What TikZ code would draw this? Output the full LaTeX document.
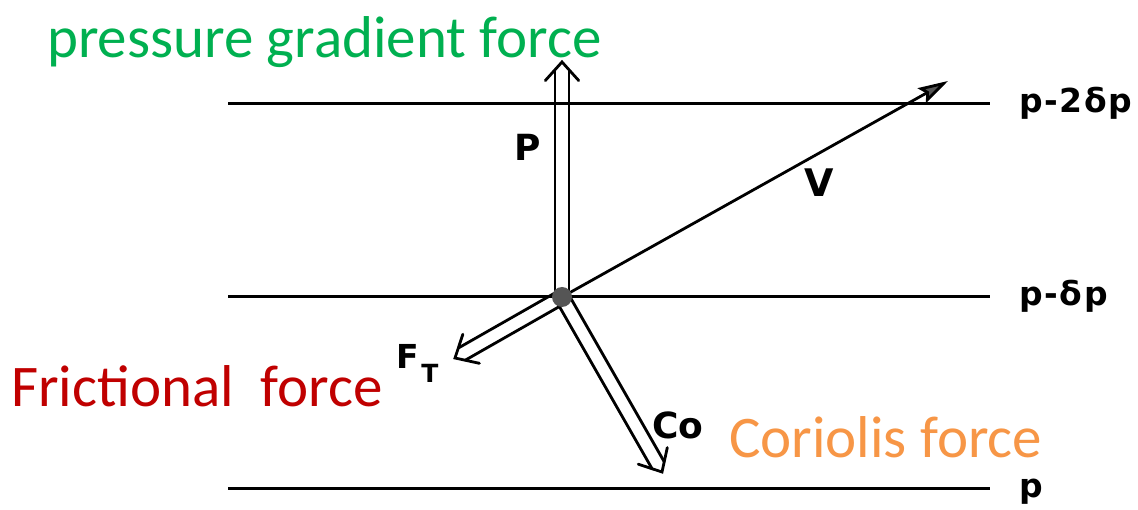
\documentclass[tikz,border=0pt]{standalone}
\usepackage{fontspec}
\usetikzlibrary{calc,arrows.meta}
\newfontfamily\labfont{DejaVu Sans Bold}
\newfontfamily\plabfont[LetterSpace=5]{DejaVu Sans Bold}
\newfontfamily\calfont{Carlito}
\definecolor{pgfgreen}{HTML}{00B050}
\definecolor{frred}{HTML}{C00000}
\definecolor{coorange}{HTML}{F79646}
\definecolor{dotgray}{HTML}{555555}
\newcommand\dblarrow[2]{%
  \coordinate (tb) at ($(#2)!8pt!(#1)$);
  \draw[shaft] ($(#1)!7pt!90:(#2)$) -- ($(tb)!7pt!-90:(#1)$);
  \draw[shaft] ($(#1)!7pt!-90:(#2)$) -- ($(tb)!7pt!90:(#1)$);
  \draw[shaft, line join=miter] ($(#2)!25pt!42:(#1)$) -- (#2) -- ($(#2)!25pt!-42:(#1)$);
}
\begin{document}
\begin{tikzpicture}[x=1pt,y=-1pt,
  isobar/.style={line width=3pt},
  shaft/.style={line width=2.8pt, line cap=round},
  lettering/.style={font=\labfont\fontsize{36}{36}\selectfont, inner sep=0pt},
  plabel/.style={font=\plabfont\fontsize{33}{33}\selectfont, inner sep=0pt, anchor=base west},
  title/.style={font=\calfont\fontsize{59}{60}\selectfont, inner sep=0pt, anchor=base west}]
\useasboundingbox[fill=white] (0,0) rectangle (1138,510);

% isobars
\coordinate (L1a) at (228,104); \coordinate (L1b) at (990,104);
\coordinate (L2a) at (228,297); \coordinate (L2b) at (990,297);
\coordinate (L3a) at (228,488); \coordinate (L3b) at (990,488);
\draw[isobar] (L1a) -- (L1b);
\draw[isobar] (L2a) -- (L2b);
\draw[isobar] (L3a) -- (L3b);
\node[plabel] (l1) at (1019,113) {p-2δp};
\node[plabel] (l2) at (1019,306) {p-δp};
\node[plabel] (l3) at (1019,497) {p};

% centre and tips
\coordinate (c) at (562,297);
\coordinate (Ptip) at (562,62);
\coordinate (Ftip) at (455,358);
\coordinate (Ctip) at (662,472);
\coordinate (Vtip) at (948,81);

\dblarrow{c}{Ptip}
\dblarrow{c}{Ftip}
\dblarrow{c}{Ctip}
\draw[line width=2.8pt, -{Stealth[length=30pt,width=17pt,inset=5pt,fill=dotgray]}] (c) -- (Vtip);
\node[circle, fill=dotgray, minimum size=20pt, inner sep=0pt] (dot) at (c) {};

% labels
\node[lettering] (P) at (528,147) {P};
\node[lettering, font=\labfont\fontsize{38}{38}\selectfont] (V) at (819,183) {V};
\node[lettering] (Co) at (678,425) {Co};
\node[lettering, font=\labfont\fontsize{33}{33}\selectfont] (F) at (408,356) {F};
\node[lettering, font=\labfont\fontsize{25}{25}\selectfont] (T) at (430,373) {T};

% coloured titles
\node[title, text=pgfgreen] (pg) at (47,58) {pressure gradient force};
\node[title, text=frred] (fr) at (11,407) {Frictional\ \ force};
\node[title, text=coorange] (co) at (729,457) {Coriolis force};
\end{tikzpicture}
\end{document}
